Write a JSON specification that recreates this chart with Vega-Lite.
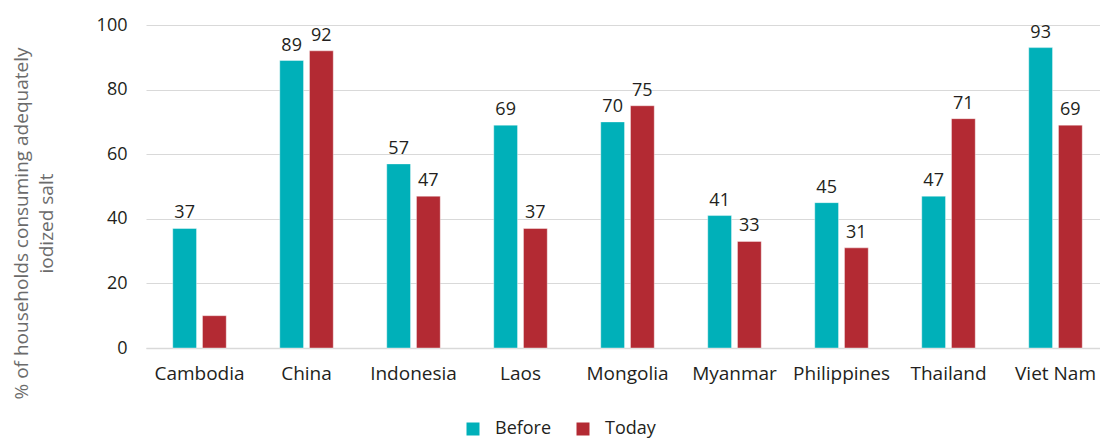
{
  "$schema": "https://vega.github.io/schema/vega-lite/v6.json",
  "autosize": "none",
  "padding": {"left": 146, "top": 25, "right": 0, "bottom": 91},
  "width": 954,
  "height": 323,
  "background": "#ffffff",
  "config": {
    "font": "Open Sans",
    "view": {"stroke": null},
    "axis": {"labelFont": "Open Sans", "titleFont": "Open Sans"},
    "legend": {"labelFont": "Open Sans"}
  },
  "data": {
    "values": [
      {"country": "Cambodia", "period": "Before", "value": 37, "label": 37},
      {"country": "Cambodia", "period": "Today", "value": 10, "label": null},
      {"country": "China", "period": "Before", "value": 89, "label": 89},
      {"country": "China", "period": "Today", "value": 92, "label": 92},
      {"country": "Indonesia", "period": "Before", "value": 57, "label": 57},
      {"country": "Indonesia", "period": "Today", "value": 47, "label": 47},
      {"country": "Laos", "period": "Before", "value": 69, "label": 69},
      {"country": "Laos", "period": "Today", "value": 37, "label": 37},
      {"country": "Mongolia", "period": "Before", "value": 70, "label": 70},
      {"country": "Mongolia", "period": "Today", "value": 75, "label": 75},
      {"country": "Myanmar", "period": "Before", "value": 41, "label": 41},
      {"country": "Myanmar", "period": "Today", "value": 33, "label": 33},
      {"country": "Philippines", "period": "Before", "value": 45, "label": 45},
      {"country": "Philippines", "period": "Today", "value": 31, "label": 31},
      {"country": "Thailand", "period": "Before", "value": 47, "label": 47},
      {"country": "Thailand", "period": "Today", "value": 71, "label": 71},
      {"country": "Viet Nam", "period": "Before", "value": 93, "label": 93},
      {"country": "Viet Nam", "period": "Today", "value": 69, "label": 69}
    ]
  },
  "encoding": {
    "x": {
      "field": "country",
      "type": "nominal",
      "sort": null,
      "scale": {"range": [0, 963], "paddingInner": 0.5, "paddingOuter": 0.25},
      "axis": {
        "title": null,
        "labelAngle": 0,
        "labelFontSize": 19,
        "labelColor": "#231f20",
        "labelPadding": 16,
        "ticks": false,
        "domainColor": "#d9d9d9",
        "domainWidth": 1.5
      }
    },
    "xOffset": {
      "field": "period",
      "type": "nominal",
      "scale": {"paddingInner": 0.2}
    },
    "y": {
      "field": "value",
      "type": "quantitative",
      "scale": {"domain": [0, 100], "nice": false},
      "axis": {
        "title": ["% of households consuming adequately", "iodized salt"],
        "titleFontSize": 19,
        "titleFontWeight": "normal",
        "titleColor": "#6b6b6b",
        "titleAngle": -90,
        "titleAlign": "center",
        "titleBaseline": "alphabetic",
        "titleLineHeight": 25,
        "titleX": -119,
        "titleY": 198,
        "values": [0, 20, 40, 60, 80, 100],
        "labelFontSize": 18,
        "labelColor": "#231f20",
        "labelPadding": 19,
        "ticks": false,
        "domain": false,
        "gridColor": "#d9d9d9",
        "gridWidth": 1.2
      }
    }
  },
  "layer": [
    {
      "mark": {"type": "bar", "stroke": "#ffffff", "strokeWidth": 1, "strokeOpacity": 0.4},
      "encoding": {
        "color": {
          "field": "period",
          "type": "nominal",
          "scale": {"domain": ["Before", "Today"], "range": ["#00b0b9", "#b32a33"]},
          "legend": {
            "title": null,
            "orient": "none",
            "direction": "horizontal",
            "legendX": 318,
            "legendY": 395,
            "symbolType": "square",
            "symbolSize": 169,
            "symbolStrokeWidth": 0,
            "labelFontSize": 18,
            "labelColor": "#231f20",
            "labelOffset": 13,
            "columnPadding": 22,
            "padding": 0
          }
        }
      }
    },
    {
      "transform": [{"filter": "isValid(datum.label)"}],
      "mark": {"type": "text", "baseline": "bottom", "dy": -6, "fontSize": 18, "color": "#231f20"},
      "encoding": {"text": {"field": "label", "type": "quantitative"}}
    }
  ]
}
